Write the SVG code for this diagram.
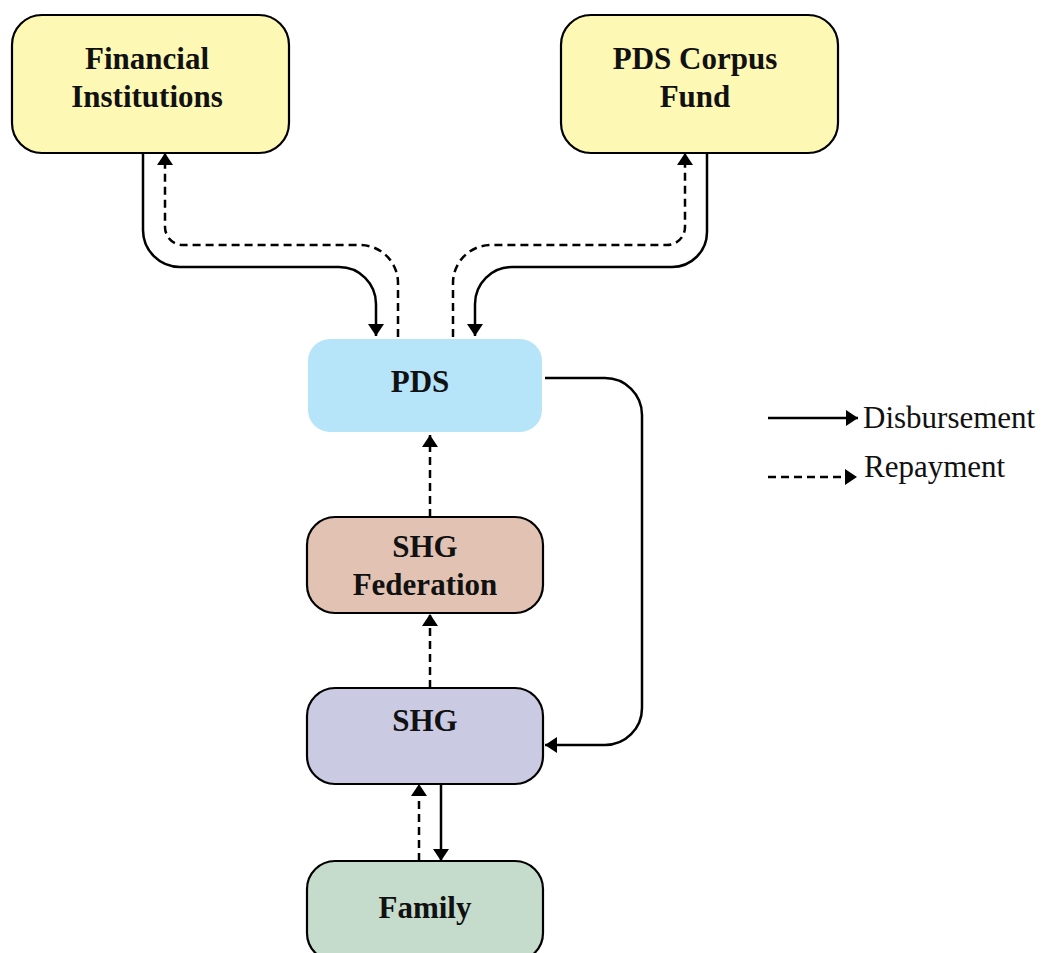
<svg xmlns="http://www.w3.org/2000/svg" width="1046" height="953" viewBox="0 0 1046 953">
<defs>
<style>
.box{stroke:#000;stroke-width:2.2}
.lbl{font-family:"Liberation Serif","Times New Roman",serif;font-weight:bold;font-size:31px;fill:#111;text-anchor:middle}
.leg{font-family:"Liberation Serif","Times New Roman",serif;font-size:31px;fill:#111}
.c{fill:none;stroke:#000;stroke-width:2.5}
.d{stroke-dasharray:8 5}
</style>
<marker id="ah" viewBox="0 0 12 16" refX="12" refY="8" markerWidth="12" markerHeight="16" markerUnits="userSpaceOnUse" orient="auto">
<path d="M0,0 L12,8 L0,16 z" fill="#000"/>
</marker>
</defs>
<rect width="1046" height="953" fill="#fff"/>
<g id="connectors">
<path class="c" d="M143,153 V230 A37,37 0 0 0 180,267 H339 A37,37 0 0 1 376,304 V336" marker-end="url(#ah)"/>
<path class="c d" d="M398,337 V283 A38,38 0 0 0 360,245 H183 A18,18 0 0 1 165,227 V153" marker-end="url(#ah)"/>
<path class="c" d="M707,153 V232 A35,35 0 0 1 672,267 H512 A37,37 0 0 0 475,304 V336" marker-end="url(#ah)"/>
<path class="c d" d="M453,337 V283 A38,38 0 0 1 491,245 H667 A18,18 0 0 0 685,227 V153" marker-end="url(#ah)"/>
<path class="c" d="M545,378 H605 A37,37 0 0 1 642,415 V708 A37,37 0 0 1 605,745 H545" marker-end="url(#ah)"/>
<path class="c d" d="M430,517 V435" marker-end="url(#ah)"/>
<path class="c d" d="M430,688 V614" marker-end="url(#ah)"/>
<path class="c d" d="M419,861 V784" marker-end="url(#ah)"/>
<path class="c" d="M441,784 V861" marker-end="url(#ah)"/>
</g>
<g id="fi">
<rect class="box" x="12" y="15" width="277" height="138" rx="30" fill="#fef8b5"/>
<text class="lbl" x="147" y="69">Financial</text>
<text class="lbl" x="147" y="107">Institutions</text>
</g>
<g id="pcf">
<rect class="box" x="561" y="15" width="277" height="138" rx="30" fill="#fef8b5"/>
<text class="lbl" x="695" y="69">PDS Corpus</text>
<text class="lbl" x="695" y="107">Fund</text>
</g>
<g id="pds">
<rect x="308" y="339" width="234" height="93" rx="22" fill="#b6e4f9"/>
<text class="lbl" x="420" y="392">PDS</text>
</g>
<g id="shgfed">
<rect class="box" x="307" y="517" width="236" height="96" rx="28" fill="#e2c3b3"/>
<text class="lbl" x="425" y="557">SHG</text>
<text class="lbl" x="425" y="595">Federation</text>
</g>
<g id="shg">
<rect class="box" x="307" y="688" width="236" height="96" rx="28" fill="#cacbe3"/>
<text class="lbl" x="425" y="731">SHG</text>
</g>
<g id="family">
<rect class="box" x="307" y="861" width="236" height="100" rx="28" fill="#c5dccc"/>
<text class="lbl" x="425" y="918">Family</text>
</g>
<g id="legend">
<path class="c" d="M768,418 H858" marker-end="url(#ah)"/>
<text class="leg" x="863" y="428">Disbursement</text>
<path class="c d" d="M768,477 H857" marker-end="url(#ah)"/>
<text class="leg" x="864" y="477">Repayment</text>
</g>
</svg>
